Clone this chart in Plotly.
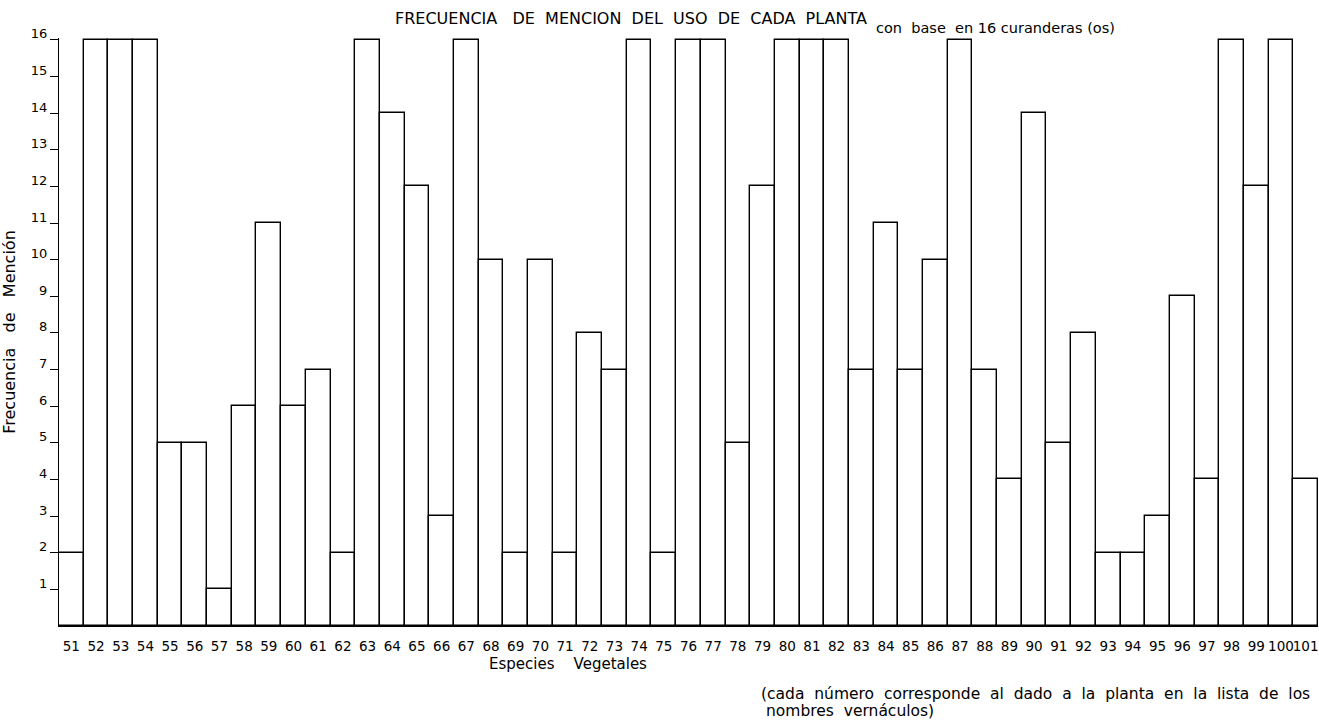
import plotly.graph_objects as go

# especies 51..101 y frecuencia de mencion (base 16 curanderas)
especies = [str(n) for n in range(51, 102)]
frecuencia = [
    2, 16, 16, 16, 5, 5, 1, 6, 11, 6,
    7, 2, 16, 14, 12, 3, 16, 10, 2, 10,
    2, 8, 7, 16, 2, 16, 16, 5, 12, 16,
    16, 16, 7, 11, 7, 10, 16, 7, 4, 14,
    5, 8, 2, 2, 3, 9, 4, 16, 12, 16,
    4,
]
y_ticks = list(range(1, 17))

FONT = "DejaVu Sans"

fig = go.Figure(
    go.Bar(
        x=especies,
        y=frecuencia,
        marker={"color": "white", "line": {"color": "black", "width": 1.4}},
        hoverinfo="x+y",
    )
)

fig.update_layout(
    width=1319,
    height=722,
    margin={"l": 59, "r": 1, "t": 38, "b": 96},
    paper_bgcolor="white",
    plot_bgcolor="white",
    bargap=0,
    showlegend=False,
    font={"family": FONT, "color": "black", "size": 14},
)

fig.update_xaxes(
    type="category",
    range=[-0.5, len(especies) - 0.5],
    showline=True,
    linecolor="black",
    linewidth=1,
    showgrid=False,
    ticks="",
    ticklabelstandoff=8,
    tickfont={"size": 13.5},
    tickangle=0,
)
fig.update_yaxes(
    range=[0, 16.05],
    tickvals=y_ticks,
    ticktext=[str(v) for v in y_ticks],
    showline=True,
    linecolor="black",
    linewidth=1.4,
    showgrid=False,
    zeroline=False,
    ticks="outside",
    ticklen=8,
    tickwidth=1.2,
    tickcolor="black",
    ticklabelstandoff=0,
    ticklabelshift=-6,
    tickfont={"size": 13},
    title={"text": "Frecuencia   de   Mención", "font": {"size": 16}, "standoff": 12},
)

fig.add_annotation(
    text="FRECUENCIA   DE  MENCION  DEL  USO  DE  CADA  PLANTA",
    xref="paper", yref="paper", x=0.265, y=1.0, xanchor="left", yanchor="middle",
    yshift=20, showarrow=False, font={"size": 16},
)
fig.add_annotation(
    text="con  base  en 16 curanderas (os)",
    xref="paper", yref="paper", x=0.647, y=1.0, xanchor="left", yanchor="middle",
    yshift=10, showarrow=False, font={"size": 14.5},
)
fig.add_annotation(
    text="Especies    Vegetales",
    xref="paper", yref="paper", x=0.404, y=0, xanchor="center", yanchor="middle",
    yshift=-38, showarrow=False, font={"size": 15},
)
fig.add_annotation(
    text="(cada  número  corresponde  al  dado  a  la  planta  en  la  lista  de  los",
    xref="paper", yref="paper", x=0.556, y=0, xanchor="left", yanchor="middle",
    yshift=-68, showarrow=False, font={"size": 15.5},
)
fig.add_annotation(
    text="nombres  vernáculos)",
    xref="paper", yref="paper", x=0.56, y=0, xanchor="left", yanchor="middle",
    yshift=-85, showarrow=False, font={"size": 15.5},
)

fig.write_html(
    "out.html",
    config={"displayModeBar": False},
    post_script="document.body.style.margin = '0';",
)
